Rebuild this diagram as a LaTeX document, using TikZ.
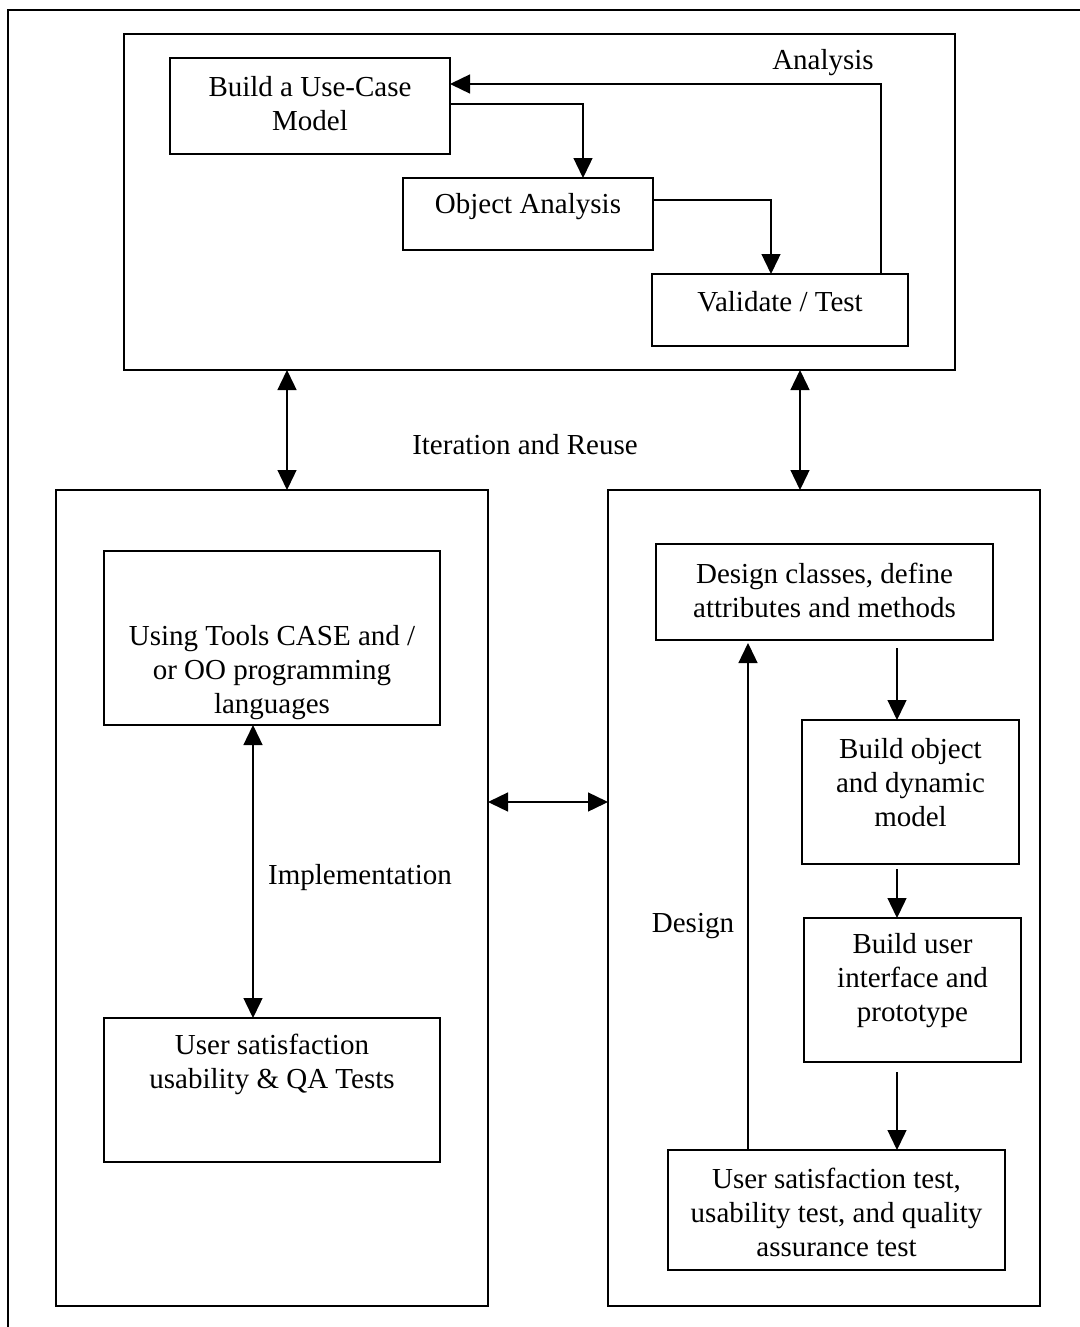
\documentclass[tikz,border=0pt]{standalone}
\usepackage{fontspec}
\setmainfont{Liberation Serif}
\usetikzlibrary{arrows.meta,calc}

\tikzset{
  frame/.style={draw, line width=0.9pt, inner sep=0pt, outer sep=0pt},
  txt/.style={align=center, inner sep=0pt, font=\fontsize{14.5}{17}\selectfont},
  link/.style={line width=0.7pt, -{Triangle[length=10pt,width=9.5pt]}},
  dlink/.style={line width=0.7pt, {Triangle[length=10pt,width=9.5pt]}-{Triangle[length=10pt,width=9.5pt]}},
}

\begin{document}
\begin{tikzpicture}[x=0.5pt, y=-0.5pt]
  \useasboundingbox (0,0) rectangle (1080,1327);
  \clip (0,0) rectangle (1080,1327);
  \fill[white] (0,0) rectangle (1080,1327);

  % enclosing page frame (only its left and top edges fall on the page)
  \draw[line width=0.9pt] (8,1340) -- (8,10) -- (1100,10);

  % analysis block
  \node[frame, minimum width=415.5pt, minimum height=168pt] (top) at (539.5,202) {};
  \node[frame, minimum width=140pt, minimum height=48pt] (build) at (310,106) {};
  \node[txt] (build-t) at (310,104) {Build a Use-Case\\Model};
  \node[frame, minimum width=125pt, minimum height=36pt] (obj) at (528,214) {};
  \node[txt] (obj-t) at (528,207) {Object Analysis};
  \node[frame, minimum width=128pt, minimum height=36pt] (val) at (780,310) {};
  \node[txt] (val-t) at (780,302) {Validate / Test};
  \node[txt] (ana) at (823,63) {Analysis};

  \draw[link] ($(build.east)+(0,-2)$) -| ($(obj.north)+(55,0)$);
  \draw[link] ($(obj.east)+(0,-14)$) -| ($(val.north)+(-9,0)$);
  \draw[link] ($(val.north)+(101,0)$) |- ($(build.east)+(0,-22)$);

  % implementation block
  \node[frame, minimum width=216pt, minimum height=408pt] (lbox) at (272,898) {};
  \node[frame, minimum width=168pt, minimum height=87pt] (ut) at (272,638) {};
  \node[txt] (ut-t) at (272,673) {Using Tools CASE and /\\or OO programming\\languages};
  \node[frame, minimum width=168pt, minimum height=72pt] (us) at (272,1090) {};
  \node[txt] (us-t) at (272,1064) {User satisfaction\\usability \& QA Tests};
  \node[txt] (impl) at (360,878) {Implementation};

  % design block
  \node[frame, minimum width=216pt, minimum height=408pt] (rbox) at (824,898) {};
  \node[frame, minimum width=168.5pt, minimum height=48pt] (dc) at (824.5,592) {};
  \node[txt] (dc-t) at (824.5,590) {Design classes, define\\attributes and methods};
  \node[frame, minimum width=108.5pt, minimum height=72pt] (bo) at (910.5,792) {};
  \node[txt] (bo-t) at (910.5,783) {Build object\\and dynamic\\model};
  \node[frame, minimum width=108.5pt, minimum height=72pt] (bu) at (912.5,990) {};
  \node[txt] (bu-t) at (912.5,981) {Build user\\interface and\\prototype};
  \node[frame, minimum width=168.5pt, minimum height=60pt] (ust) at (836.5,1210) {};
  \node[txt] (ust-t) at (836.5,1212) {User satisfaction test,\\usability test, and quality\\assurance test};
  \node[txt] (des) at (693,926) {Design};

  % iteration between the blocks
  \node[txt] (iter) at (525,445) {Iteration and Reuse};
  \coordinate (xl) at (287,0);
  \coordinate (xr) at (800,0);
  \coordinate (ymid) at (0,802);
  \draw[dlink] (top.south -| xl) -- (lbox.north -| xl);
  \draw[dlink] (top.south -| xr) -- (rbox.north -| xr);
  \draw[dlink] (lbox.east |- ymid) -- (rbox.west |- ymid);

  % steps inside the implementation block
  \coordinate (xi) at (253,0);
  \draw[dlink] (ut.south -| xi) -- (us.north -| xi);

  % steps inside the design block
  \coordinate (xd) at (897,0);
  \coordinate (xb) at (748,0);
  \draw[link] ($(dc.south -| xd)+(0,8)$) -- (bo.north -| xd);
  \draw[link] ($(bo.south -| xd)+(0,5)$) -- (bu.north -| xd);
  \draw[link] ($(bu.south -| xd)+(0,10)$) -- (ust.north -| xd);
  \draw[link, shorten >=1.5pt] (ust.north -| xb) -- (dc.south -| xb);
\end{tikzpicture}
\end{document}
